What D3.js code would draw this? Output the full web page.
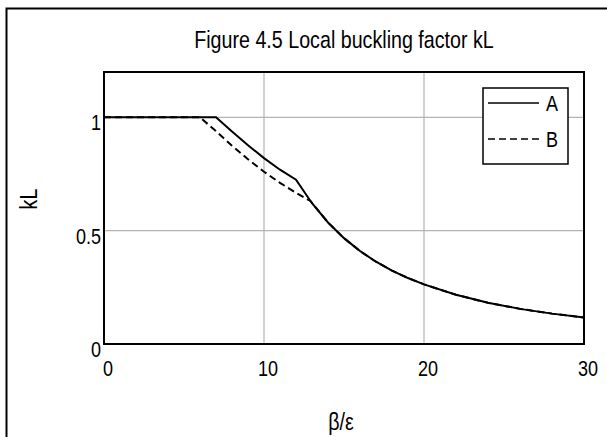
<!DOCTYPE html>
<html>
<head>
<meta charset="utf-8">
<script src="https://cdn.jsdelivr.net/npm/d3@7"></script>
<style>
  html, body { margin: 0; padding: 0; background: #fff; }
  svg { display: block; font-family: "Liberation Sans", Arial, sans-serif; }
</style>
</head>
<body>
<div id="chart"></div>
<script>
(function () {
  "use strict";

  // curve A (solid): flat to 7, bends at 12, then shared tail
  var A_X = [0, 7, 8, 9, 10, 11, 12, 13, 14, 15, 16, 17, 18, 19, 20, 22, 24, 26, 28, 30];
  var A_Y = [1, 1, 0.937, 0.877, 0.82, 0.769, 0.725, 0.621, 0.536, 0.467, 0.41, 0.363, 0.324, 0.291, 0.263, 0.217, 0.182, 0.155, 0.134, 0.117];
  // curve B (dashed): flat to 6, joins A's tail near 12.9
  var B_X = [0, 6, 7, 8, 9, 10, 11, 12, 12.9, 14, 15, 16, 17, 18, 19, 20, 22, 24, 26, 28, 30];
  var B_Y = [1, 1, 0.939, 0.875, 0.815, 0.76, 0.711, 0.667, 0.631, 0.536, 0.467, 0.41, 0.363, 0.324, 0.291, 0.263, 0.217, 0.182, 0.155, 0.134, 0.117];

  var X_TICKS = [0, 10, 20, 30];
  var Y_TICKS = [0, 0.5, 1];
  var Y_TICK_LABELS = ["0", "0.5", "1"];
  var SERIES = [
    { name: "A", xs: A_X, ys: A_Y, dash: null },
    { name: "B", xs: B_X, ys: B_Y, dash: "7,4" }
  ];

  var W = 607, H = 437;
  var L = 104, R = 584, T = 72, B = 344;
  var SQUEEZE = 0.82; // source font is a narrow sans

  var x = d3.scaleLinear().domain([0, 30]).range([L, R]);
  var y = d3.scaleLinear().domain([0, 1.2]).range([B, T]);

  var svg = d3.select("#chart").append("svg").attr("width", W).attr("height", H);

  // narrow text: regular sans squeezed horizontally
  function ntext(parent, tx, ty, txt, size, anchor, rot) {
    return parent.append("text")
      .attr("transform", "translate(" + tx + "," + ty + ")" + (rot ? " rotate(" + rot + ")" : "") + " scale(" + SQUEEZE + ",1)")
      .attr("text-anchor", anchor || "start").style("font-size", size + "px").text(txt);
  }

  // outer frame (runs past right/bottom edge like the source)
  svg.append("rect").attr("x", 6.5).attr("y", 8.5).attr("width", 700).attr("height", 700)
    .attr("fill", "none").attr("stroke", "#000").attr("stroke-width", 2);

  ntext(svg, (L + R) / 2, 48, "Figure 4.5 Local buckling factor kL", 24, "middle");

  // grid
  var grid = svg.append("g").attr("stroke", "#b4b4b4").attr("stroke-width", 1.2);
  X_TICKS.slice(1, -1).forEach(function (v) {
    grid.append("line").attr("x1", x(v)).attr("x2", x(v)).attr("y1", T).attr("y2", B);
  });
  Y_TICKS.slice(1).forEach(function (v) {
    grid.append("line").attr("x1", L).attr("x2", R).attr("y1", y(v)).attr("y2", y(v));
  });

  // curves
  var line = d3.line().x(function (d) { return x(d[0]); }).y(function (d) { return y(d[1]); });
  SERIES.forEach(function (s) {
    var pts = s.xs.map(function (v, i) { return [v, s.ys[i]]; });
    svg.append("path").datum(pts).attr("d", line)
      .attr("fill", "none").attr("stroke", "#000").attr("stroke-width", 2)
      .attr("stroke-dasharray", s.dash);
  });

  // plot frame
  svg.append("rect").attr("x", L).attr("y", T).attr("width", R - L).attr("height", B - T)
    .attr("fill", "none").attr("stroke", "#000").attr("stroke-width", 2);

  // tick labels
  var xt = svg.append("g");
  X_TICKS.forEach(function (d) { ntext(xt, x(d) + 4, B + 32, String(d), 22, "middle"); });
  var yt = svg.append("g");
  Y_TICKS.forEach(function (d, i) { ntext(yt, L - 3, y(d) + 13, Y_TICK_LABELS[i], 22, "end"); });

  // axis titles
  ntext(svg, 37, 199, "kL", 24, "middle", -90);
  ntext(svg, 341, 430, "β/ε", 24, "middle");

  // legend
  var lg = svg.append("g").attr("transform", "translate(483,88)");
  lg.append("rect").attr("width", 85).attr("height", 76)
    .attr("fill", "#fff").attr("stroke", "#000").attr("stroke-width", 1.5);
  SERIES.forEach(function (s, i) {
    var yy = 15 + i * 36;
    lg.append("line").attr("x1", 5).attr("x2", 56).attr("y1", yy).attr("y2", yy)
      .attr("stroke", "#000").attr("stroke-width", 1.5).attr("stroke-dasharray", s.dash);
    ntext(lg, 63, yy + 8, s.name, 22, "start");
  });
})();
</script>
</body>
</html>
